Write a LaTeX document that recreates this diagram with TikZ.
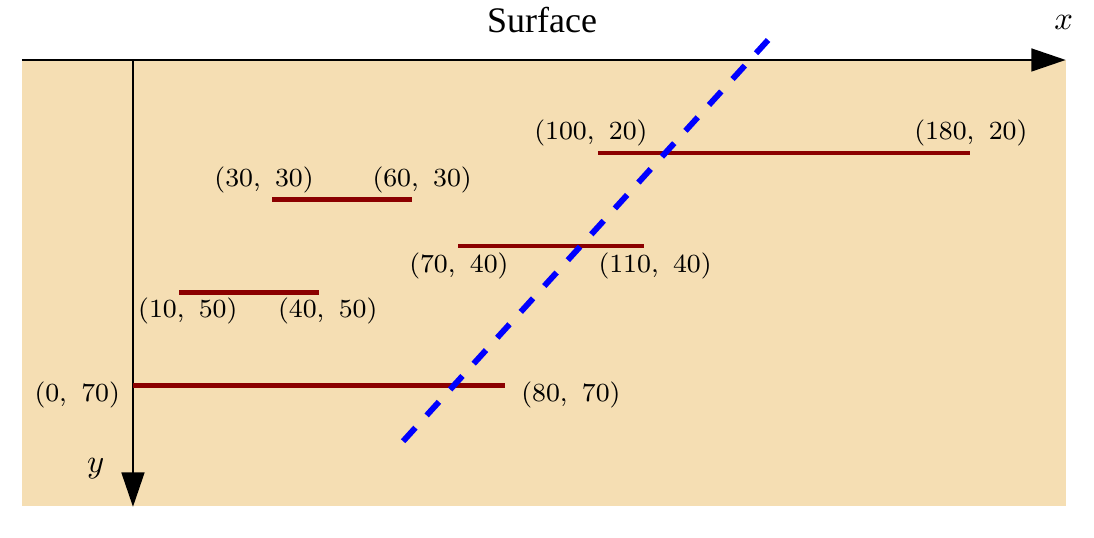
\documentclass[tikz,border=0pt]{standalone}
\usepackage{fontspec}
\newfontfamily\surfacefont{Liberation Serif}
\usetikzlibrary{arrows.meta}

\definecolor{wheat}{HTML}{F5DEB3}
\definecolor{darkred}{HTML}{8B0000}

\newcommand{\lab}[2]{(#1,\hspace{0.55em}#2)}

\tikzset{
  axis/.style={line width=0.6pt, -{Triangle[length=10.5pt,width=7pt]}},
  seg/.style={darkred, line width=1.5pt},
  ptlab/.style={font=\fontsize{8}{10}\selectfont, inner sep=0pt},
  fault/.style={blue, line width=1.8pt, dash pattern=on 5.6pt off 5.1pt},
}

\begin{document}
\begin{tikzpicture}[x=0.05cm, y=-0.05cm]
    \useasboundingbox (-28.6,-12.9) rectangle (206.7,102.6);
    \fill[wheat] (-23.9,0) rectangle (200.6,95.9);

    % axes
    \coordinate (xl) at (-23.9,0);
    \coordinate (xr) at (200.6,0);
    \coordinate (o) at (0,0);
    \coordinate (yb) at (0,96.1);
    \draw[axis] (xl) -- (xr);
    \draw[axis] (o) -- (yb);
    \node (xlab) at (200.2,-8.0) {$x$};
    \node (ylab) at (-8.0,88.0) {$y$};
    \node[font=\surfacefont\fontsize{11}{13}\selectfont] (surf) at (88.0,-8.6) {Surface};

    % layers
    \coordinate (a1) at (100,20); \coordinate (a2) at (180,20);
    \coordinate (b1) at (30,30);  \coordinate (b2) at (60,30);
    \coordinate (c1) at (70,40);  \coordinate (c2) at (110,40);
    \coordinate (d1) at (10,50);  \coordinate (d2) at (40,50);
    \coordinate (e1) at (0,70);   \coordinate (e2) at (80,70);
    \draw[seg] (a1) -- (a2);
    \draw[seg] (b1) -- (b2);
    \draw[seg] (c1) -- (c2);
    \draw[seg] (d1) -- (d2);
    \draw[seg] (e1) -- (e2);

    % end point labels
    \node[ptlab] (la1) at (98.5,15.7) {\lab{100}{20}};
    \node[ptlab] (la2) at (180.2,15.7) {\lab{180}{20}};
    \node[ptlab] (lb1) at (28.2,25.9) {\lab{30}{30}};
    \node[ptlab] (lb2) at (62.2,25.9) {\lab{60}{30}};
    \node[ptlab] (lc1) at (70.1,44.2) {\lab{70}{40}};
    \node[ptlab] (lc2) at (112.3,44.2) {\lab{110}{40}};
    \node[ptlab] (ld1) at (11.8,54.0) {\lab{10}{50}};
    \node[ptlab] (ld2) at (41.9,54.0) {\lab{40}{50}};
    \node[ptlab] (le1) at (-12.0,72.0) {\lab{0}{70}};
    \node[ptlab] (le2) at (94.2,72.0) {\lab{80}{70}};

    % fault
    \coordinate (f1) at (58.1,82);
    \coordinate (f2) at (136.6,-4.3);
    \draw[fault] (f1) -- (f2);
\end{tikzpicture}
\end{document}
